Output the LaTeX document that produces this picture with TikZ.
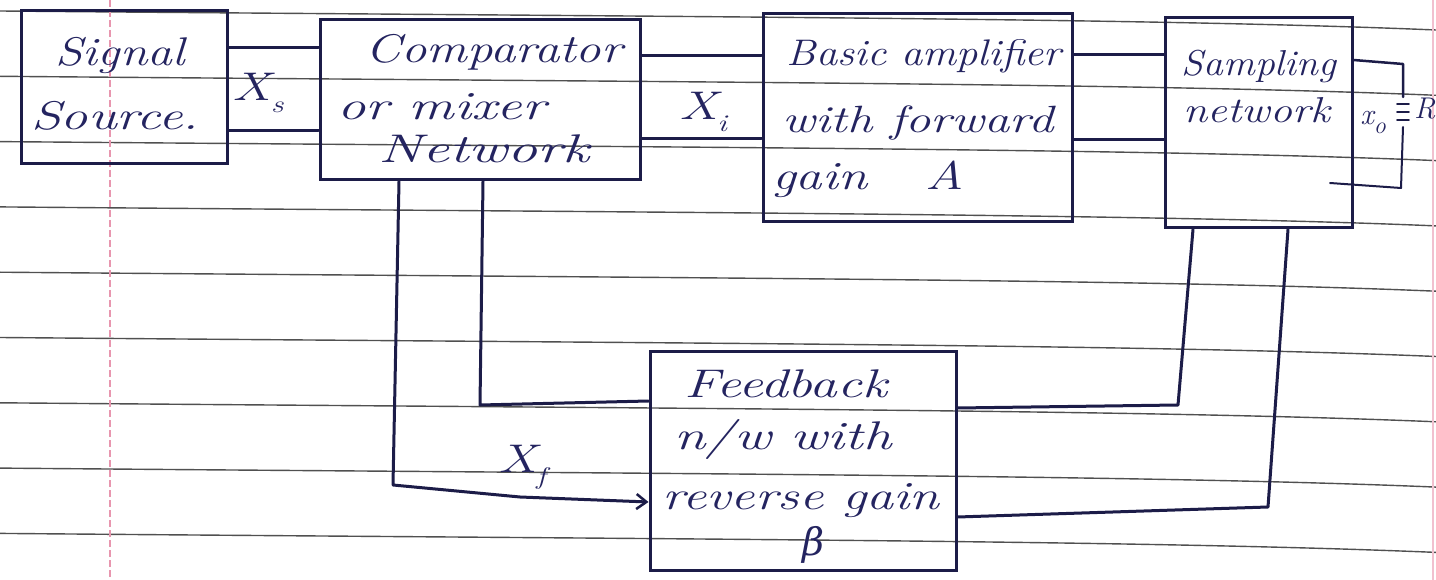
\documentclass[tikz,border=0pt]{standalone}
\usepackage{fontspec}
\usetikzlibrary{arrows.meta}
\newfontfamily\betafont{DejaVu Serif}
\definecolor{inkc}{RGB}{28,28,72}
\definecolor{textc}{RGB}{36,36,96}
\definecolor{rulec}{RGB}{80,80,80}
\definecolor{marginc}{RGB}{232,150,175}
\newcommand\hw[1]{\fontsize{#1}{#1}\selectfont\itshape}
\newcommand\T[2][1.32]{\scalebox{#1}[1]{#2}}
\newcommand\subx[1]{\raisebox{-0.3em}{\fontsize{24}{24}\selectfont\itshape #1}}
\begin{document}
\begin{tikzpicture}[x=1pt,y=1pt,
  box/.style={draw=inkc,line width=3pt,inner sep=0pt},
  wire/.style={draw=inkc,line width=3pt,line cap=round,line join=round},
  lbl/.style={text=textc,inner sep=0pt,text height=0.7em,text depth=0.2em,font=\hw{40}},
  lblsm/.style={lbl,font=\hw{36}},
  arr/.style={-{Straight Barb[length=10pt,width=15pt,line width=2.5pt]}}]
\useasboundingbox (0,0) rectangle (1436,-580);
\fill[white] (0,0) rectangle (1436,-580);
% ruled paper
\foreach \k in {0,...,8}{
  \pgfmathsetmacro\b{16+65.3*\k}
  \draw[rulec,line width=1.4pt] (0,-\b+5) .. controls (700,-\b-1) and (1150,-\b-2) .. (1436,-\b-14);
}
\draw[marginc,line width=1.2pt,dash pattern=on 7pt off 3pt] (110,0) -- (110,-580);
\draw[marginc!60,line width=2pt] (1433,0) -- (1433,-580);
% blocks
\node[box,minimum width=206,minimum height=153] (src) at (124,-87) {};
\node[box,minimum width=320,minimum height=160] (cmp) at (480,-100) {};
\node[box,minimum width=309,minimum height=208] (amp) at (917.5,-118) {};
\node[box,minimum width=187,minimum height=210] (smp) at (1258.5,-123) {};
\node[box,minimum width=306,minimum height=219] (fb) at (803,-460.5) {};
% block texts
\node[lbl] (t1) at (120,-63) {\T[1.24]{Signal}};
\node[lbl] (t2) at (115,-127) {\T[1.36]{Source.}};
\node[lbl] (t3) at (494,-60) {\T[1.27]{Comparator}};
\node[lbl,anchor=west] (t4) at (337,-117) {\T[1.42]{or mixer}};
\node[lbl] (t5) at (484,-160) {\T[1.5]{Network}};
\node[lbl,font=\hw{37}] (t6) at (924,-63) {\T[1.15]{Basic amplifier}};
\node[lbl,font=\hw{38}] (t7) at (918,-130) {\T[1.33]{with forward}};
\node[lbl,anchor=west] (t8) at (772,-187) {\T{gain}\hspace{58pt}\T{A}};
\node[lblsm] (t9) at (1259,-73) {\T[1.1]{Sampling}};
\node[lblsm] (t10) at (1257,-120) {\T[1.22]{network}};
\node[lbl] (t11) at (786,-395) {\T[1.38]{Feedback}};
\node[lbl] (t12) at (783,-447) {\T[1.42]{n/w with}};
\node[lbl] (t13) at (801,-507) {\T[1.35]{reverse gain}};
\node[lbl,font={\fontsize{38}{38}\selectfont\betafont\itshape}] (t14) at (813,-553) {β};
% forward path
\draw[wire] (src.east |- 0,-48) -- (cmp.west |- 0,-48);
\draw[wire] (src.east |- 0,-131) -- (cmp.west |- 0,-131);
\node[lbl] (xs) at (258,-98) {\T{X\subx{s}}};
\draw[wire] (cmp.east |- 0,-56) -- (amp.west |- 0,-56);
\draw[wire] (cmp.east |- 0,-139) -- (amp.west |- 0,-139);
\node[lbl] (xi) at (703,-117) {\T{X\subx{i}}};
\draw[wire] (amp.east |- 0,-55) -- (smp.west |- 0,-55);
\draw[wire] (amp.east |- 0,-140) -- (smp.west |- 0,-140);
% output and load
\coordinate (o1) at (1403,-64);
\coordinate (o2) at (1403,-97);
\coordinate (o3) at (1403,-127);
\coordinate (o4) at (1401,-188);
\coordinate (o5) at (1330,-183);
\draw[wire,line width=2.5pt] (smp.east |- 0,-60) -- (o1) -- (o2);
\draw[wire,line width=1.8pt] (1397,-104) -- (1409,-104) (1397,-112) -- (1409,-112) (1397,-120) -- (1409,-120);
\draw[wire,line width=2pt] (o3) -- (o4) -- (o5);
\node[lbl,font=\hw{30}] (xo) at (1373,-122) {x\subx{o}};
\node[lbl,font=\hw{30},anchor=west] (rl) at (1414,-116) {R};
% feedback paths
\draw[wire,arr] (cmp.south -| 399,0) -- (393,-485) -- (520,-497) -- (fb.west |- 0,-502);
\draw[wire] (cmp.south -| 483,0) -- (480,-405) -- (fb.west |- 0,-401);
\node[lbl] (xf) at (522,-470) {\T{X\subx{f}}};
\draw[wire] (fb.east |- 0,-408) -- (1178,-405) -- (smp.south -| 1193,0);
\draw[wire] (fb.east |- 0,-517) -- (1268,-507) -- (smp.south -| 1288,0);
\end{tikzpicture}
\end{document}
